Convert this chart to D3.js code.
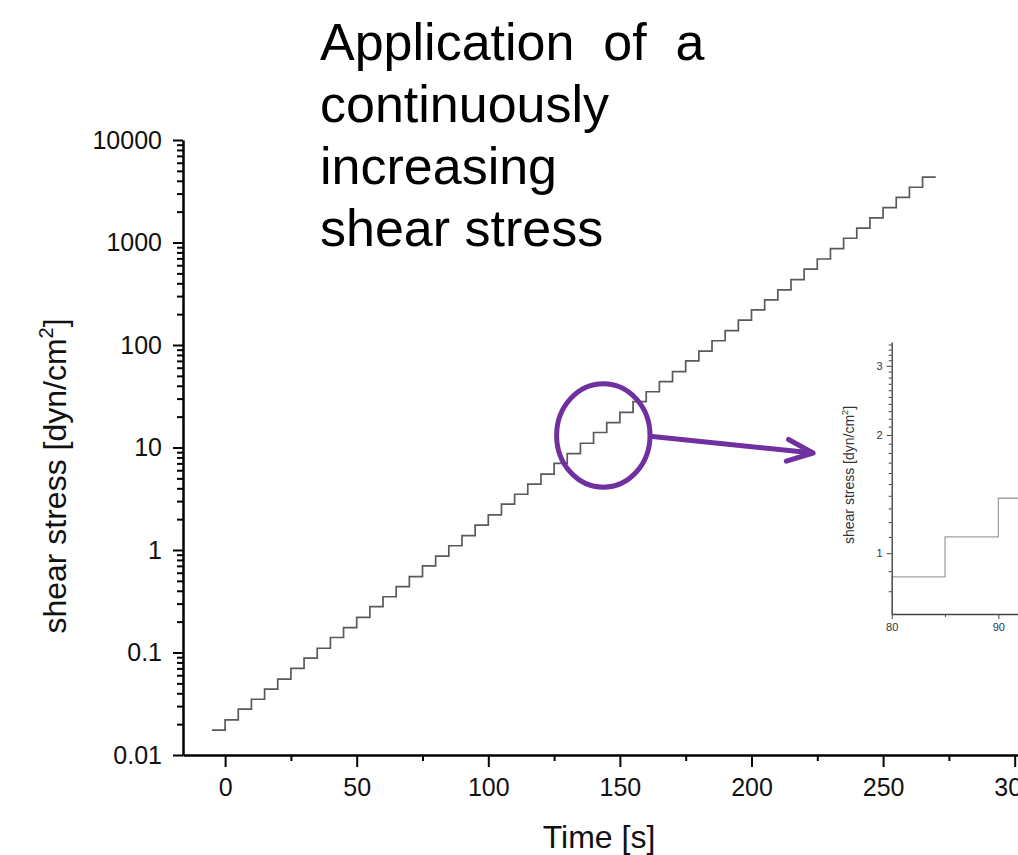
<!DOCTYPE html>
<html>
<head>
<meta charset="utf-8">
<script src="https://cdn.jsdelivr.net/npm/d3@7"></script>
<style>
  html, body { margin: 0; padding: 0; background: #fff; }
  svg { display: block; font-family: Arial, "Liberation Sans", sans-serif; }
</style>
</head>
<body>
<svg id="chart" width="1018" height="855"></svg>
<script>
// start time of each 5 s step [s] and the stress held during it [dyn/cm2]
var stepTimes = [-5, 0, 5, 10, 15, 20, 25, 30, 35, 40, 45, 50, 55, 60, 65, 70, 75,
    80, 85, 90, 95, 100, 105, 110, 115, 120, 125, 130, 135, 140, 145, 150, 155,
    160, 165, 170, 175, 180, 185, 190, 195, 200, 205, 210, 215, 220, 225, 230,
    235, 240, 245, 250, 255, 260, 265];
var stepStress = [0.0175, 0.022, 0.028, 0.035, 0.044, 0.055, 0.07, 0.088, 0.11,
    0.14, 0.175, 0.22, 0.28, 0.35, 0.44, 0.55, 0.70, 0.87, 1.10, 1.38, 1.75, 2.2,
    2.8, 3.5, 4.4, 5.5, 7.0, 8.7, 11, 14, 17.5, 22, 28, 35, 44, 55, 70, 87, 110,
    138, 175, 220, 275, 345, 435, 550, 690, 870, 1100, 1380, 1740, 2190, 2750,
    3460, 4350];
var endTime = 270;

var titleLines = ["Application  of  a", "continuously", "increasing", "shear stress"];

var xTicks = [0, 50, 100, 150, 200, 250, 300];
var xMinorTicks = [25, 75, 125, 175, 225, 275];
var yTicks = [0.01, 0.1, 1, 10, 100, 1000, 10000];

var insetXTicks = [80, 90];
var insetXMinorTicks = [85];
var insetYTicks = [1, 2, 3];
var insetYMinorTicks = [0.8, 0.9, 1.1, 1.2, 1.3, 1.4, 1.5, 1.6, 1.7, 1.8, 1.9,
    2.1, 2.2, 2.3, 2.4, 2.5, 2.6, 2.7, 2.8, 2.9, 3.1, 3.2, 3.3, 3.4];

// zoom marker in data coordinates [time, stress]
var circleCenter = [143.7, 13.1];
var arrowTip = [223.4, 8.84];

var purple = "#7030a0";
var svg = d3.select("#chart");

var x = d3.scaleLinear().domain([-16, 310]).range([183, 1041]);
var y = d3.scaleLog().domain([0.01, 10000]).range([755, 140]);

var points = stepTimes.map(function(t, i) { return [t, stepStress[i]]; });
points.push([endTime, stepStress[stepStress.length - 1]]);

// title
svg.append("g").selectAll("text")
    .data(titleLines)
    .enter().append("text")
    .attr("x", 320)
    .attr("y", function(d, i) { return 60 + i * 62; })
    .attr("font-size", "52px")
    .attr("fill", "#000")
    .style("white-space", "pre")
    .text(function(d) { return d; });

// main axes
function styleAxis(g, width) {
    g.select(".domain").attr("stroke", "#000").attr("stroke-width", width);
    g.selectAll(".tick line").attr("stroke", "#000").attr("stroke-width", 2);
    g.selectAll(".tick text").attr("fill", "#111").attr("font-family", null);
}

var xAxis = svg.append("g")
    .attr("transform", "translate(0,755)")
    .call(d3.axisBottom(x).tickValues(xTicks).tickSize(12).tickSizeOuter(0)
        .tickPadding(11).tickFormat(d3.format("d")))
    .attr("font-size", "25px");
styleAxis(xAxis, 2.5);

svg.append("g")
    .attr("transform", "translate(0,755)")
    .call(d3.axisBottom(x).tickValues(xMinorTicks).tickSize(6).tickFormat(""))
    .call(function(g) { g.select(".domain").remove(); })
    .call(function(g) { styleAxis(g, 0); });

var yMinor = y.ticks().filter(function(d) { return yTicks.indexOf(d) < 0; });
svg.append("g")
    .attr("transform", "translate(183,0)")
    .call(d3.axisLeft(y).tickValues(yMinor).tickSize(6).tickFormat(""))
    .call(function(g) { g.select(".domain").remove(); })
    .call(function(g) { styleAxis(g, 0); });

var yAxis = svg.append("g")
    .attr("transform", "translate(183,0)")
    .call(d3.axisLeft(y).tickValues(yTicks).tickSize(10).tickSizeOuter(0)
        .tickPadding(11).tickFormat(d3.format("~g")))
    .attr("font-size", "25px");
styleAxis(yAxis, 2.5);

// axis titles
svg.append("text")
    .attr("x", 599)
    .attr("y", 848)
    .attr("text-anchor", "middle")
    .attr("font-size", "32px")
    .attr("fill", "#111")
    .text("Time [s]");

var yTitle = svg.append("text")
    .attr("transform", "translate(66,476) rotate(-90)")
    .attr("text-anchor", "middle")
    .attr("font-size", "32px")
    .attr("fill", "#111");
yTitle.append("tspan").text("shear stress [dyn/cm");
yTitle.append("tspan").attr("font-size", "20px").attr("dy", -13).text("2");
yTitle.append("tspan").attr("dy", 13).text("]");

// staircase
var line = d3.line()
    .curve(d3.curveStepAfter)
    .x(function(d) { return x(d[0]); })
    .y(function(d) { return y(d[1]); });

svg.append("path")
    .datum(points)
    .attr("d", line)
    .attr("fill", "none")
    .attr("stroke", "#5a5a5a")
    .attr("stroke-width", 1.7);

// inset (zoom into 80-95 s)
var ix = d3.scaleLinear().domain([80, 95]).range([891.7, 1051.7]);
var iy = d3.scaleLog().domain([0.7, 3.45]).range([614, 342]);

svg.append("clipPath").attr("id", "inset-clip")
    .append("rect")
    .attr("x", ix.range()[0])
    .attr("y", iy.range()[1])
    .attr("width", ix.range()[1] - ix.range()[0])
    .attr("height", iy.range()[0] - iy.range()[1]);

var insetLine = d3.line()
    .curve(d3.curveStepAfter)
    .x(function(d) { return ix(d[0]); })
    .y(function(d) { return iy(d[1]); });

svg.append("path")
    .datum(points)
    .attr("d", insetLine)
    .attr("clip-path", "url(#inset-clip)")
    .attr("fill", "none")
    .attr("stroke", "#a0a0a0")
    .attr("stroke-width", 1.3);

function styleInsetAxis(g) {
    g.select(".domain").attr("stroke", "#444").attr("stroke-width", 1.4);
    g.selectAll(".tick line").attr("stroke", "#444").attr("stroke-width", 1);
    g.selectAll(".tick text").attr("fill", "#333").attr("font-family", null);
}

svg.append("g")
    .attr("transform", "translate(891.7,0)")
    .call(d3.axisLeft(iy).tickValues(insetYMinorTicks).tickSize(3).tickFormat(""))
    .call(function(g) { g.select(".domain").remove(); })
    .call(styleInsetAxis);

svg.append("g")
    .attr("transform", "translate(891.7,0)")
    .call(d3.axisLeft(iy).tickValues(insetYTicks).tickSize(5).tickSizeOuter(0)
        .tickPadding(4).tickFormat(d3.format("d")))
    .attr("font-size", "11px")
    .call(styleInsetAxis);

svg.append("g")
    .attr("transform", "translate(0,614)")
    .call(d3.axisBottom(ix).tickValues(insetXMinorTicks).tickSize(3).tickFormat(""))
    .call(function(g) { g.select(".domain").remove(); })
    .call(styleInsetAxis);

svg.append("g")
    .attr("transform", "translate(0,614)")
    .call(d3.axisBottom(ix).tickValues(insetXTicks).tickSize(5).tickSizeOuter(0)
        .tickPadding(4).tickFormat(d3.format("d")))
    .attr("font-size", "11px")
    .call(styleInsetAxis);

var insetTitle = svg.append("text")
    .attr("transform", "translate(854,475) rotate(-90)")
    .attr("text-anchor", "middle")
    .attr("font-size", "14px")
    .attr("fill", "#333");
insetTitle.append("tspan").text("shear stress [dyn/cm");
insetTitle.append("tspan").attr("font-size", "9px").attr("dy", -6).text("2");
insetTitle.append("tspan").attr("dy", 6).text("]");

// zoom marker: circle + arrow
var cx = x(circleCenter[0]), cy = y(circleCenter[1]);
var rx = 46.7, ry = 51.7;
svg.append("ellipse")
    .attr("cx", cx).attr("cy", cy)
    .attr("rx", rx).attr("ry", ry)
    .attr("fill", "none")
    .attr("stroke", purple)
    .attr("stroke-width", 5);

var tx = x(arrowTip[0]), ty = y(arrowTip[1]);
var sx = cx + rx, sy = cy + 0.7;
var ang = Math.atan2(ty - sy, tx - sx);
var headLen = 28, headAng = 23 * Math.PI / 180;

svg.append("line")
    .attr("x1", sx).attr("y1", sy)
    .attr("x2", tx - 2 * Math.cos(ang)).attr("y2", ty - 2 * Math.sin(ang))
    .attr("stroke", purple)
    .attr("stroke-width", 5);

svg.append("path")
    .attr("d", "M" + (tx - headLen * Math.cos(ang - headAng)) + "," + (ty - headLen * Math.sin(ang - headAng)) +
        "L" + tx + "," + ty +
        "L" + (tx - headLen * Math.cos(ang + headAng)) + "," + (ty - headLen * Math.sin(ang + headAng)))
    .attr("fill", "none")
    .attr("stroke", purple)
    .attr("stroke-width", 5)
    .attr("stroke-linecap", "round")
    .attr("stroke-linejoin", "round");
</script>
</body>
</html>
